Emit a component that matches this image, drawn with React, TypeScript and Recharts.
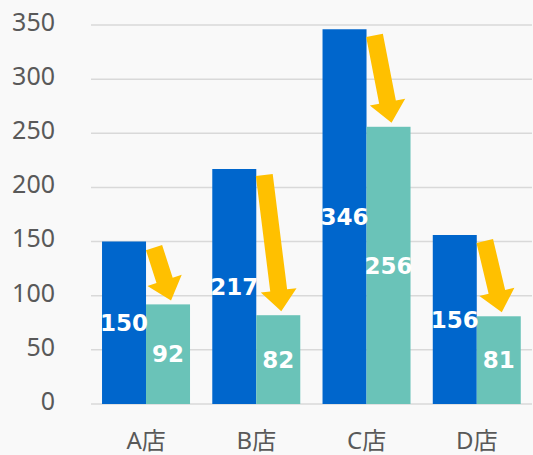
import { Bar, BarChart, CartesianGrid, LabelList, XAxis, YAxis } from "recharts";

const STORES = ["A店", "B店", "C店", "D店"];
const BEFORE = [150, 217, 346, 156];
const AFTER = [92, 82, 256, 81];
const Y_TICKS = [0, 50, 100, 150, 200, 250, 300, 350];

const BLUE = "#0066CC";
const TEAL = "#6AC3B8";
const ARROW = "#FFC000";

const data = STORES.map((name, i) => ({
  name,
  before: BEFORE[i],
  after: AFTER[i],
}));

// block arrow from (x1, y1) to the tip at (x2, y2)
function arrowPoints(x1: number, y1: number, x2: number, y2: number) {
  const shaft = 8.5;
  const head = 18;
  const headLen = 21;
  const len = Math.hypot(x2 - x1, y2 - y1);
  const ux = (x2 - x1) / len;
  const uy = (y2 - y1) / len;
  const nx = -uy;
  const ny = ux;
  const bx = x2 - ux * headLen;
  const by = y2 - uy * headLen;
  const pts = [
    [x1 + nx * shaft, y1 + ny * shaft],
    [bx + nx * shaft, by + ny * shaft],
    [bx + nx * head, by + ny * head],
    [x2, y2],
    [bx - nx * head, by - ny * head],
    [bx - nx * shaft, by - ny * shaft],
    [x1 - nx * shaft, y1 - ny * shaft],
  ];
  return pts.map((p) => p.join(",")).join(" ");
}

// teal bar plus the arrow pointing down from the blue bar's top
function AfterBar(props: any) {
  const { x, y, width, height, payload } = props;
  const perUnit = height / payload.after;
  const beforeTop = y + height - payload.before * perUnit;
  return (
    <g>
      <rect x={x} y={y} width={width} height={height} fill={TEAL} />
      <polygon
        points={arrowPoints(x + 8, beforeTop + 6, x + 25, y - 4)}
        fill={ARROW}
      />
    </g>
  );
}

const labelStyle = {
  fill: "#FFFFFF",
  fontSize: 23,
  fontWeight: "bold",
  fontFamily: "'DejaVu Sans', Verdana, sans-serif",
};

export default function App() {
  return (
    <div
      style={{
        position: "absolute",
        left: 0,
        top: 0,
        width: 533,
        height: 455,
        background: "#F9F9F9",
      }}
    >
      <BarChart
        width={533}
        height={455}
        data={data}
        margin={{ top: 25, right: 1, left: 0, bottom: 0 }}
        barCategoryGap="10%"
        barGap={0}
      >
        <CartesianGrid vertical={false} stroke="#D9D9D9" strokeWidth={1.5} />
        <XAxis
          dataKey="name"
          axisLine={false}
          tickLine={false}
          tickSize={0}
          tickMargin={28}
          height={51}
          tick={{
            fill: "#595959",
            fontSize: 24,
            fontFamily: "'Noto Sans', 'Noto Sans CJK JP', sans-serif",
          }}
        />
        <YAxis
          domain={[0, 350]}
          ticks={Y_TICKS}
          width={91}
          axisLine={false}
          tickLine={false}
          tickSize={0}
          tickMargin={36}
          tick={{
            fill: "#595959",
            fontSize: 25,
            fontFamily: "'Noto Sans', sans-serif",
            dy: -3,
          }}
        />
        <Bar dataKey="before" fill={BLUE} isAnimationActive={false}>
          <LabelList dataKey="before" position="center" style={labelStyle} />
        </Bar>
        <Bar
          dataKey="after"
          fill={TEAL}
          shape={AfterBar}
          isAnimationActive={false}
        >
          <LabelList dataKey="after" position="center" style={labelStyle} />
        </Bar>
      </BarChart>
    </div>
  );
}
